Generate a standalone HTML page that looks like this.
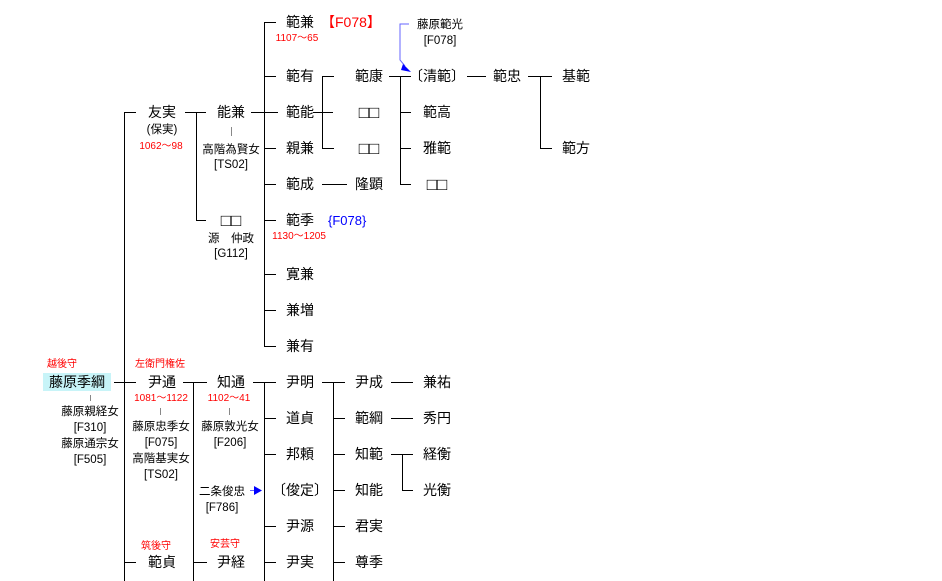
<!DOCTYPE html>
<html><head><meta charset="utf-8"><style>
html,body{margin:0;padding:0;background:#fff;}
svg{display:block}
text{font-family:"Liberation Sans","Noto Sans CJK JP",sans-serif;}
.n{font-size:14px;fill:#000;text-anchor:middle}
.b{font-family:"Noto Sans CJK JP",sans-serif;font-size:17px;fill:#000;text-anchor:middle}
.s{font-size:11.5px;fill:#000;text-anchor:middle}
.r{font-size:10px;fill:#f00;text-anchor:middle}
</style></head><body>
<svg width="942" height="581" viewBox="0 0 942 581" xmlns="http://www.w3.org/2000/svg">
<g stroke="#000" stroke-width="1" shape-rendering="crispEdges">
<line x1="124.5" y1="112" x2="124.5" y2="581"/>
<line x1="124" y1="112.5" x2="136" y2="112.5"/>
<line x1="185" y1="112.5" x2="206" y2="112.5"/>
<line x1="196.5" y1="112" x2="196.5" y2="220"/>
<line x1="196" y1="220.5" x2="206" y2="220.5"/>
<line x1="251" y1="112.5" x2="278" y2="112.5"/>
<line x1="264.5" y1="22" x2="264.5" y2="346"/>
<line x1="264" y1="22.5" x2="276" y2="22.5"/>
<line x1="264" y1="76.5" x2="276" y2="76.5"/>
<line x1="264" y1="148.5" x2="276" y2="148.5"/>
<line x1="264" y1="184.5" x2="276" y2="184.5"/>
<line x1="264" y1="220.5" x2="276" y2="220.5"/>
<line x1="264" y1="274.5" x2="276" y2="274.5"/>
<line x1="264" y1="310.5" x2="276" y2="310.5"/>
<line x1="264" y1="346.5" x2="276" y2="346.5"/>
<line x1="313" y1="112.5" x2="333" y2="112.5"/>
<line x1="322.5" y1="76" x2="322.5" y2="148"/>
<line x1="322" y1="76.5" x2="334" y2="76.5"/>
<line x1="322" y1="148.5" x2="334" y2="148.5"/>
<line x1="322" y1="184.5" x2="347" y2="184.5"/>
<line x1="389" y1="76.5" x2="411" y2="76.5"/>
<line x1="400.5" y1="76" x2="400.5" y2="184"/>
<line x1="400" y1="112.5" x2="411" y2="112.5"/>
<line x1="400" y1="148.5" x2="411" y2="148.5"/>
<line x1="400" y1="184.5" x2="411" y2="184.5"/>
<line x1="467" y1="76.5" x2="486" y2="76.5"/>
<line x1="528" y1="76.5" x2="552" y2="76.5"/>
<line x1="540.5" y1="76" x2="540.5" y2="148"/>
<line x1="540" y1="148.5" x2="552" y2="148.5"/>
<line x1="114" y1="382.5" x2="136" y2="382.5"/>
<line x1="183" y1="382.5" x2="207" y2="382.5"/>
<line x1="193.5" y1="382" x2="193.5" y2="581"/>
<line x1="124" y1="562.5" x2="136" y2="562.5"/>
<line x1="193" y1="562.5" x2="207" y2="562.5"/>
<line x1="253" y1="382.5" x2="276" y2="382.5"/>
<line x1="264.5" y1="382" x2="264.5" y2="581"/>
<line x1="264" y1="418.5" x2="276" y2="418.5"/>
<line x1="264" y1="454.5" x2="276" y2="454.5"/>
<line x1="264" y1="526.5" x2="276" y2="526.5"/>
<line x1="264" y1="562.5" x2="276" y2="562.5"/>
<line x1="322" y1="382.5" x2="345" y2="382.5"/>
<line x1="333.5" y1="382" x2="333.5" y2="581"/>
<line x1="333" y1="418.5" x2="345" y2="418.5"/>
<line x1="333" y1="454.5" x2="345" y2="454.5"/>
<line x1="333" y1="490.5" x2="345" y2="490.5"/>
<line x1="333" y1="526.5" x2="345" y2="526.5"/>
<line x1="333" y1="562.5" x2="345" y2="562.5"/>
<line x1="391" y1="382.5" x2="413" y2="382.5"/>
<line x1="391" y1="418.5" x2="413" y2="418.5"/>
<line x1="391" y1="454.5" x2="413" y2="454.5"/>
<line x1="402.5" y1="454" x2="402.5" y2="490"/>
<line x1="402" y1="490.5" x2="413" y2="490.5"/>
</g>
<g stroke="#888" stroke-width="1" shape-rendering="crispEdges">
<line x1="231.5" y1="127" x2="231.5" y2="136"/>
<line x1="90.5" y1="395" x2="90.5" y2="401"/>
<line x1="160.5" y1="408" x2="160.5" y2="415"/>
<line x1="229.5" y1="408" x2="229.5" y2="415"/>
</g>
<polyline points="409,24 400,24 400,60 405,66" fill="none" stroke="#66f" stroke-width="1"/>
<polygon points="403,64 411,72 401,70" fill="#00f"/>
<line x1="250" y1="490.5" x2="256" y2="490.5" stroke="#66f"/>
<polygon points="254,486 262,490.5 254,495" fill="#00f"/>
<rect x="43" y="373" width="68" height="18" fill="#c8f4f8"/>
<g class="n">
<text x="300" y="27">範兼</text><text x="300" y="81">範有</text><text x="300" y="117">範能</text>
<text x="300" y="153">親兼</text><text x="300" y="189">範成</text><text x="300" y="225">範季</text>
<text x="300" y="279">寛兼</text><text x="300" y="315">兼増</text><text x="300" y="351">兼有</text>
<text x="162" y="117">友実</text><text x="231" y="117">能兼</text>
<text x="369" y="81">範康</text><text x="369" y="189">隆顕</text>
<text x="437" y="81">〔清範〕</text><text x="437" y="117">範高</text><text x="437" y="153">雅範</text>
<text x="507" y="81">範忠</text><text x="576" y="81">基範</text><text x="576" y="153">範方</text>
<text x="77" y="387">藤原季綱</text><text x="162" y="387">尹通</text><text x="231" y="387">知通</text>
<text x="300" y="387">尹明</text><text x="300" y="423">道貞</text><text x="300" y="459">邦頼</text><text x="300" y="495">〔俊定〕</text>
<text x="300" y="531">尹源</text><text x="300" y="567">尹実</text>
<text x="369" y="387">尹成</text><text x="369" y="423">範綱</text><text x="369" y="459">知範</text><text x="369" y="495">知能</text>
<text x="369" y="531">君実</text><text x="369" y="567">尊季</text>
<text x="437" y="387">兼祐</text><text x="437" y="423">秀円</text><text x="437" y="459">経衡</text><text x="437" y="495">光衡</text>
<text x="162" y="567">範貞</text><text x="231" y="567">尹経</text>
</g>
<g class="b">
<text x="231" y="226">□□</text><text x="369" y="118">□□</text><text x="369" y="154">□□</text><text x="437" y="190">□□</text>
</g>
<text x="321" y="27" style="font-size:14px;fill:#f00">【F078】</text>
<text x="328" y="225" style="font-size:13px;fill:#00f">{F078}</text>
<g class="s">
<text x="162" y="133">(保実)</text>
<text x="231" y="153">高階為賢女</text><text x="231" y="168">[TS02]</text>
<text x="231" y="242">源　仲政</text><text x="231" y="257">[G112]</text>
<text x="440" y="28">藤原範光</text><text x="440" y="44">[F078]</text>
<text x="90" y="415">藤原親経女</text><text x="90" y="431">[F310]</text>
<text x="90" y="447">藤原通宗女</text><text x="90" y="463">[F505]</text>
<text x="161" y="430">藤原忠季女</text><text x="161" y="446">[F075]</text>
<text x="161" y="462">高階基実女</text><text x="161" y="478">[TS02]</text>
<text x="230" y="430">藤原敦光女</text><text x="230" y="446">[F206]</text>
<text x="222" y="495">二条俊忠</text><text x="222" y="511">[F786]</text>
</g>
<g class="r">
<text x="297" y="41">1107〜65</text><text x="161" y="149">1062〜98</text><text x="299" y="239">1130〜1205</text>
<text x="62" y="367">越後守</text><text x="160" y="367">左衛門権佐</text>
<text x="161" y="401">1081〜1122</text><text x="229" y="401">1102〜41</text>
<text x="156" y="549">筑後守</text><text x="225" y="547">安芸守</text>
</g>
</svg>
</body></html>
